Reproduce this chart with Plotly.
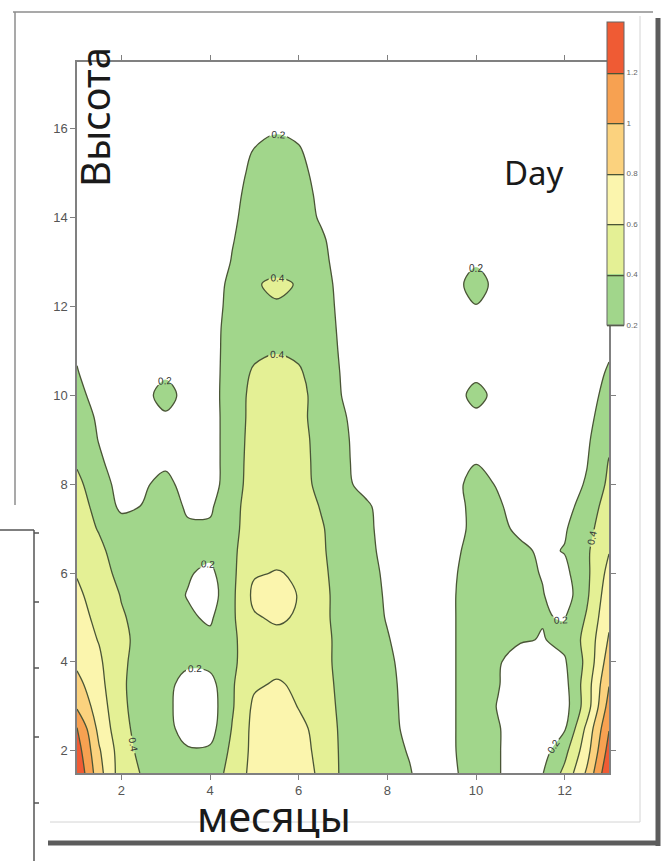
import plotly.graph_objects as go

# ---------------- data ----------------
months = [1, 1.5, 2, 2.5, 3, 3.5, 4, 4.5, 5, 5.5, 6, 6.5, 7, 7.5, 8, 8.5, 9, 9.5, 10, 10.5, 11, 11.5, 12, 12.5, 13]
heights = [1.5, 2, 2.5, 3, 3.5, 4, 4.5, 5, 5.5, 6, 6.5, 7, 7.5, 8, 8.5, 9, 9.5, 10, 10.5, 11, 11.5, 12,
           12.5, 13, 13.5, 14, 14.5, 15, 15.5, 16, 16.5, 17, 17.5]

# one row per height, one column per month
values = [
    [1.38, 0.87, 0.50, 0.38, 0.30, 0.28, 0.32, 0.45, 0.68, 0.72, 0.68, 0.57, 0.36, 0.30, 0.25, 0.21, 0.12, 0.18, 0.28, 0.21, 0.12, 0.19, 0.45, 0.83, 1.38],
    [1.30, 0.82, 0.50, 0.33, 0.27, 0.22, 0.23, 0.44, 0.66, 0.71, 0.67, 0.55, 0.36, 0.30, 0.25, 0.19, 0.12, 0.19, 0.29, 0.21, 0.12, 0.12, 0.34, 0.72, 1.28],
    [1.21, 0.74, 0.47, 0.30, 0.26, 0.12, 0.12, 0.41, 0.66, 0.71, 0.66, 0.52, 0.36, 0.30, 0.24, 0.17, 0.11, 0.19, 0.30, 0.21, 0.12, 0.10, 0.18, 0.65, 1.19],
    [0.97, 0.70, 0.44, 0.30, 0.25, 0.10, 0.10, 0.38, 0.64, 0.72, 0.59, 0.50, 0.35, 0.30, 0.24, 0.16, 0.11, 0.19, 0.30, 0.19, 0.10, 0.08, 0.12, 0.50, 1.08],
    [0.86, 0.66, 0.43, 0.30, 0.26, 0.12, 0.13, 0.38, 0.57, 0.62, 0.57, 0.47, 0.35, 0.30, 0.24, 0.15, 0.11, 0.19, 0.30, 0.21, 0.09, 0.08, 0.14, 0.50, 0.99],
    [0.76, 0.63, 0.43, 0.33, 0.28, 0.24, 0.26, 0.37, 0.50, 0.53, 0.50, 0.46, 0.34, 0.29, 0.23, 0.14, 0.10, 0.19, 0.30, 0.22, 0.10, 0.10, 0.18, 0.45, 0.90],
    [0.70, 0.59, 0.44, 0.34, 0.29, 0.25, 0.25, 0.37, 0.50, 0.54, 0.50, 0.46, 0.34, 0.28, 0.21, 0.13, 0.10, 0.19, 0.30, 0.27, 0.22, 0.19, 0.25, 0.46, 0.82],
    [0.66, 0.56, 0.42, 0.33, 0.28, 0.23, 0.17, 0.37, 0.58, 0.63, 0.58, 0.45, 0.33, 0.27, 0.19, 0.12, 0.10, 0.19, 0.30, 0.30, 0.27, 0.21, 0.19, 0.42, 0.76],
    [0.63, 0.53, 0.39, 0.32, 0.28, 0.19, 0.10, 0.36, 0.65, 0.70, 0.59, 0.45, 0.33, 0.27, 0.18, 0.12, 0.10, 0.19, 0.30, 0.30, 0.27, 0.21, 0.10, 0.37, 0.72],
    [0.59, 0.47, 0.35, 0.30, 0.30, 0.22, 0.15, 0.36, 0.58, 0.61, 0.58, 0.44, 0.32, 0.26, 0.17, 0.11, 0.10, 0.18, 0.30, 0.29, 0.25, 0.19, 0.15, 0.36, 0.66],
    [0.52, 0.43, 0.33, 0.30, 0.30, 0.27, 0.26, 0.37, 0.50, 0.54, 0.52, 0.43, 0.30, 0.25, 0.15, 0.10, 0.10, 0.16, 0.28, 0.28, 0.25, 0.16, 0.21, 0.37, 0.59],
    [0.47, 0.39, 0.31, 0.24, 0.28, 0.23, 0.23, 0.36, 0.48, 0.52, 0.50, 0.42, 0.30, 0.24, 0.14, 0.10, 0.10, 0.10, 0.28, 0.26, 0.15, 0.10, 0.18, 0.34, 0.52],
    [0.44, 0.37, 0.15, 0.21, 0.30, 0.17, 0.17, 0.35, 0.48, 0.52, 0.50, 0.39, 0.29, 0.23, 0.13, 0.10, 0.10, 0.10, 0.29, 0.23, 0.10, 0.10, 0.12, 0.30, 0.48],
    [0.44, 0.30, 0.12, 0.17, 0.27, 0.10, 0.10, 0.33, 0.47, 0.50, 0.46, 0.36, 0.24, 0.15, 0.10, 0.10, 0.10, 0.14, 0.28, 0.18, 0.10, 0.10, 0.10, 0.22, 0.44],
    [0.38, 0.23, 0.10, 0.10, 0.15, 0.08, 0.10, 0.32, 0.47, 0.50, 0.46, 0.35, 0.24, 0.12, 0.10, 0.10, 0.10, 0.10, 0.19, 0.12, 0.10, 0.10, 0.10, 0.19, 0.41],
    [0.34, 0.19, 0.08, 0.08, 0.10, 0.08, 0.10, 0.32, 0.46, 0.50, 0.45, 0.35, 0.24, 0.10, 0.08, 0.08, 0.08, 0.08, 0.10, 0.08, 0.08, 0.08, 0.10, 0.17, 0.36],
    [0.30, 0.17, 0.08, 0.12, 0.16, 0.12, 0.10, 0.32, 0.45, 0.49, 0.44, 0.34, 0.22, 0.10, 0.08, 0.08, 0.08, 0.12, 0.14, 0.12, 0.08, 0.08, 0.08, 0.15, 0.30],
    [0.26, 0.12, 0.08, 0.12, 0.30, 0.10, 0.10, 0.33, 0.44, 0.47, 0.45, 0.33, 0.19, 0.08, 0.08, 0.08, 0.08, 0.10, 0.28, 0.12, 0.08, 0.08, 0.08, 0.13, 0.26],
    [0.21, 0.10, 0.08, 0.12, 0.16, 0.12, 0.10, 0.32, 0.42, 0.46, 0.42, 0.32, 0.18, 0.08, 0.08, 0.08, 0.08, 0.12, 0.14, 0.12, 0.08, 0.08, 0.08, 0.12, 0.22],
    [0.18, 0.08, 0.08, 0.08, 0.08, 0.08, 0.10, 0.31, 0.37, 0.39, 0.37, 0.30, 0.17, 0.08, 0.08, 0.08, 0.08, 0.08, 0.08, 0.08, 0.08, 0.08, 0.08, 0.10, 0.18],
    [0.10, 0.08, 0.08, 0.08, 0.08, 0.08, 0.10, 0.30, 0.33, 0.35, 0.34, 0.29, 0.16, 0.08, 0.08, 0.08, 0.08, 0.08, 0.08, 0.08, 0.08, 0.08, 0.08, 0.08, 0.10],
    [0.08, 0.08, 0.08, 0.08, 0.08, 0.08, 0.10, 0.27, 0.34, 0.385, 0.35, 0.28, 0.15, 0.08, 0.08, 0.08, 0.08, 0.13, 0.19, 0.13, 0.08, 0.08, 0.08, 0.08, 0.08],
    [0.08, 0.08, 0.08, 0.08, 0.08, 0.08, 0.10, 0.25, 0.385, 0.43, 0.39, 0.27, 0.14, 0.08, 0.08, 0.08, 0.08, 0.12, 0.30, 0.12, 0.08, 0.08, 0.08, 0.08, 0.08],
    [0.08, 0.08, 0.08, 0.08, 0.08, 0.08, 0.08, 0.21, 0.30, 0.33, 0.31, 0.25, 0.12, 0.08, 0.08, 0.08, 0.08, 0.13, 0.17, 0.13, 0.08, 0.08, 0.08, 0.08, 0.08],
    [0.08, 0.08, 0.08, 0.08, 0.08, 0.08, 0.08, 0.19, 0.29, 0.31, 0.30, 0.23, 0.10, 0.08, 0.08, 0.08, 0.08, 0.08, 0.08, 0.08, 0.08, 0.08, 0.08, 0.08, 0.08],
    [0.08, 0.08, 0.08, 0.08, 0.08, 0.08, 0.08, 0.17, 0.28, 0.30, 0.29, 0.18, 0.08, 0.08, 0.08, 0.08, 0.08, 0.08, 0.08, 0.08, 0.08, 0.08, 0.08, 0.08, 0.08],
    [0.08, 0.08, 0.08, 0.08, 0.08, 0.08, 0.08, 0.15, 0.27, 0.29, 0.28, 0.16, 0.08, 0.08, 0.08, 0.08, 0.08, 0.08, 0.08, 0.08, 0.08, 0.08, 0.08, 0.08, 0.08],
    [0.08, 0.08, 0.08, 0.08, 0.08, 0.08, 0.08, 0.12, 0.25, 0.28, 0.26, 0.13, 0.08, 0.08, 0.08, 0.08, 0.08, 0.08, 0.08, 0.08, 0.08, 0.08, 0.08, 0.08, 0.08],
    [0.08, 0.08, 0.08, 0.08, 0.08, 0.08, 0.08, 0.10, 0.21, 0.26, 0.22, 0.10, 0.08, 0.08, 0.08, 0.08, 0.08, 0.08, 0.08, 0.08, 0.08, 0.08, 0.08, 0.08, 0.08],
    [0.08, 0.08, 0.08, 0.08, 0.08, 0.08, 0.08, 0.08, 0.14, 0.18, 0.15, 0.08, 0.08, 0.08, 0.08, 0.08, 0.08, 0.08, 0.08, 0.08, 0.08, 0.08, 0.08, 0.08, 0.08],
    [0.08, 0.08, 0.08, 0.08, 0.08, 0.08, 0.08, 0.08, 0.08, 0.08, 0.08, 0.08, 0.08, 0.08, 0.08, 0.08, 0.08, 0.08, 0.08, 0.08, 0.08, 0.08, 0.08, 0.08, 0.08],
    [0.08, 0.08, 0.08, 0.08, 0.08, 0.08, 0.08, 0.08, 0.08, 0.08, 0.08, 0.08, 0.08, 0.08, 0.08, 0.08, 0.08, 0.08, 0.08, 0.08, 0.08, 0.08, 0.08, 0.08, 0.08],
    [0.08, 0.08, 0.08, 0.08, 0.08, 0.08, 0.08, 0.08, 0.08, 0.08, 0.08, 0.08, 0.08, 0.08, 0.08, 0.08, 0.08, 0.08, 0.08, 0.08, 0.08, 0.08, 0.08, 0.08, 0.08],
]

level_start = 0.2
level_end = 1.2
level_step = 0.2
scale_min = 0.2
scale_max = 1.4

# band colours: below 0.2, 0.2-0.4, 0.4-0.6, 0.6-0.8, 0.8-1.0, 1.0-1.2, above 1.2
band_colors = ["#ffffff", "#a1d68b", "#e4f095", "#fbf5ad", "#fbd27e", "#f7a151", "#ef5b34"]

cb_tickvals = [0.2, 0.4, 0.6, 0.8, 1.0, 1.2]
cb_ticktext = ["0.2", "0.4", "0.6", "0.8", "1", "1.2"]
x_tickvals = [2, 4, 6, 8, 10, 12]
y_tickvals = [2, 4, 6, 8, 10, 12, 14, 16]

x_title = "месяцы"
y_title = "Высота"
panel_label = "Day"

# ---------------- styling ----------------
W, H = 664, 861
ML, MR, MT, MB = 77, 55, 62, 88
PW, PH = W - ML - MR, H - MT - MB
LINE_COLOR = "#4a5536"
SMOOTH = 1.0


def px(x):
    return (x - ML) / PW


def py(y):
    return (H - MB - y) / PH


n_bands = len(band_colors) - 1
fill_scale = [[k / n_bands, c] for k, c in enumerate(band_colors)]
step_scale = []
for k, c in enumerate(band_colors[1:]):
    step_scale.append([k / n_bands, c])
    step_scale.append([(k + 1) / n_bands, c])

contour_levels = dict(start=level_start, end=level_end, size=level_step)

fig = go.Figure()

# colour-bar carrier (hidden beneath the filled contours)
fig.add_trace(go.Contour(
    x=months, y=heights, z=values,
    autocontour=False,
    contours=dict(**contour_levels, coloring="heatmap", showlines=True),
    colorscale=step_scale, zmin=scale_min, zmax=scale_max,
    line=dict(color=LINE_COLOR, width=1.3, smoothing=SMOOTH),
    hoverinfo="skip",
    showscale=True,
    colorbar=dict(
        x=px(607), xanchor="left", xpad=0,
        y=py(22), yanchor="top", ypad=0,
        len=303, lenmode="pixels", thickness=17,
        outlinewidth=1, outlinecolor="#666666",
        tickvals=cb_tickvals, ticktext=cb_ticktext, ticks="",
        tickfont=dict(family="Liberation Sans, Arial", size=8, color="#666666"),
    ),
))

# filled bands
fig.add_trace(go.Contour(
    x=months, y=heights, z=values,
    autocontour=False,
    contours=dict(**contour_levels, coloring="fill", showlines=False),
    colorscale=fill_scale,
    line=dict(width=0, smoothing=SMOOTH),
    hoverinfo="skip", showscale=False,
))

# labelled low lines (0.2, 0.4)
fig.add_trace(go.Contour(
    x=months, y=heights, z=values,
    autocontour=False,
    contours=dict(start=level_start, end=level_start + level_step, size=level_step,
                  coloring="none", showlabels=True,
                  labelfont=dict(family="Liberation Sans, Arial", size=10, color="#333333")),
    line=dict(color=LINE_COLOR, width=1.3, smoothing=SMOOTH),
    hoverinfo="skip", showscale=False,
))

# unlabelled high lines (0.6 .. 1.2)
fig.add_trace(go.Contour(
    x=months, y=heights, z=values,
    autocontour=False,
    contours=dict(start=level_start + 2 * level_step, end=level_end, size=level_step,
                  coloring="none", showlabels=False),
    line=dict(color=LINE_COLOR, width=1.3, smoothing=SMOOTH),
    hoverinfo="skip", showscale=False,
))

axis_common = dict(
    showline=True, linecolor="#808080", linewidth=1.5, mirror="ticks",
    ticks="outside", ticklen=5, tickcolor="#808080", tickwidth=1,
    showgrid=False, zeroline=False,
    tickfont=dict(family="Liberation Sans, Arial", size=13, color="#555555"),
)

fig.update_layout(
    width=W, height=H,
    margin=dict(l=ML, r=MR, t=MT, b=MB),
    paper_bgcolor="white", plot_bgcolor="white",
    showlegend=False,
    xaxis=dict(range=[1, 13], tickvals=x_tickvals, **axis_common),
    yaxis=dict(range=[1.5, 17.5], tickvals=y_tickvals, **axis_common),
)

fig.add_annotation(x=px(94), y=py(117), xref="paper", yref="paper", text=y_title,
                   textangle=-90, showarrow=False, xanchor="center", yanchor="middle",
                   font=dict(family="Noto Sans, Open Sans", size=40, color="#1a1a1a"))
fig.add_annotation(x=px(274), y=py(816), xref="paper", yref="paper", text=x_title,
                   showarrow=False, xanchor="center", yanchor="middle",
                   font=dict(family="Noto Sans, Open Sans", size=41, color="#1a1a1a"))
fig.add_annotation(x=px(534), y=py(172), xref="paper", yref="paper", text=panel_label,
                   showarrow=False, xanchor="center", yanchor="middle",
                   font=dict(family="Noto Sans, Open Sans", size=33, color="#1a1a1a"))


# scanned-page frame decorations
def seg(x0, y0, x1, y1, color, width):
    fig.add_shape(type="line", xref="paper", yref="paper",
                  x0=px(x0), y0=py(y0), x1=px(x1), y1=py(y1),
                  line=dict(color=color, width=width), layer="above")


seg(13, 12, 653, 12, "#8c8c8c", 1.5)
seg(15, 12, 15, 505, "#8c8c8c", 1.5)
seg(640, 16, 640, 822, "#d4d4d4", 1)
seg(50, 822, 640, 822, "#d4d4d4", 1)
seg(658, 18, 658, 846, "#5c5c5c", 5)
seg(48, 843, 660, 843, "#5c5c5c", 5)
seg(0, 530, 34, 530, "#555555", 1.5)
seg(34, 530, 34, 861, "#555555", 1.5)
for ty in (533, 602, 668, 737, 803):
    seg(34, ty, 39, ty, "#555555", 1.5)

fig.write_html(
    "out.html",
    config={"displayModeBar": False},
    post_script="document.body.style.margin='0px';document.body.style.overflow='hidden';",
)
